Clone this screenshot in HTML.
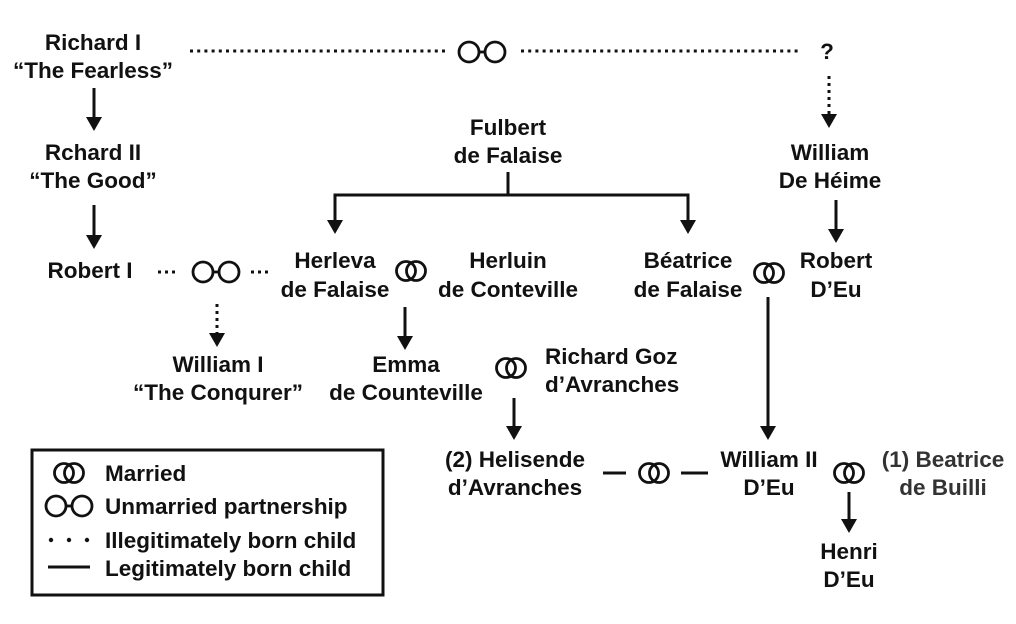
<!DOCTYPE html>
<html><head><meta charset="utf-8"><style>
html,body{margin:0;padding:0;background:#fff;}
svg{display:block;}
text{font-family:"Liberation Sans",Arial,sans-serif;font-weight:bold;font-size:22.5px;fill:#111;}
</style></head><body>
<svg width="1016" height="624" viewBox="0 0 1016 624" xmlns="http://www.w3.org/2000/svg">
<defs>
<g id="ring"><circle cx="-5" cy="0" r="9.5" fill="none" stroke="#111" stroke-width="2.8"/><circle cx="5" cy="0" r="9.5" fill="none" stroke="#111" stroke-width="2.8"/></g>
<g id="oo"><circle cx="-13" cy="0" r="10" fill="none" stroke="#111" stroke-width="2.8"/><circle cx="13" cy="0" r="10" fill="none" stroke="#111" stroke-width="2.8"/><line x1="-3" y1="0" x2="3" y2="0" stroke="#111" stroke-width="2.8"/></g>
</defs>
<g text-anchor="middle">
<text x="93" y="50">Richard I</text>
<text x="93" y="78">“The Fearless”</text>
<text x="93" y="160">Rchard II</text>
<text x="93" y="188">“The Good”</text>
<text x="90" y="278">Robert I</text>
<text x="508" y="135">Fulbert</text>
<text x="508" y="163">de Falaise</text>
<text x="830" y="160">William</text>
<text x="830" y="188">De Héime</text>
<text x="335" y="268">Herleva</text>
<text x="335" y="297">de Falaise</text>
<text x="508" y="268">Herluin</text>
<text x="508" y="297">de Conteville</text>
<text x="688" y="268">Béatrice</text>
<text x="688" y="297">de Falaise</text>
<text x="836" y="268">Robert</text>
<text x="836" y="297">D’Eu</text>
<text x="218" y="372">William I</text>
<text x="218" y="400">“The Conqurer”</text>
<text x="406" y="372">Emma</text>
<text x="406" y="400">de Counteville</text>
<text x="515" y="467">(2) Helisende</text>
<text x="515" y="495">d’Avranches</text>
<text x="769" y="467">William II</text>
<text x="769" y="495">D’Eu</text>
<text x="943" y="467" style="fill:#333">(1) Beatrice</text>
<text x="943" y="495" style="fill:#333">de Builli</text>
<text x="849" y="559">Henri</text>
<text x="849" y="587">D’Eu</text>
<text x="827" y="59">?</text>
</g>
<text x="545" y="364">Richard Goz</text>
<text x="545" y="392">d’Avranches</text>
<g stroke="#111" stroke-width="3" fill="none">
<line x1="190" y1="51" x2="446" y2="51" stroke-dasharray="3 4.2"/>
<line x1="521" y1="51" x2="801" y2="51" stroke-dasharray="3 4.2"/>
<line x1="829" y1="76" x2="829" y2="116" stroke-dasharray="3 4"/>
<line x1="158" y1="272" x2="178" y2="272" stroke-dasharray="3 4"/>
<line x1="251" y1="272" x2="271" y2="272" stroke-dasharray="3 4"/>
<line x1="217" y1="304" x2="217" y2="336" stroke-dasharray="3 4"/>
<line x1="94" y1="88" x2="94" y2="120"/>
<line x1="94" y1="205" x2="94" y2="238"/>
<polyline points="335,222 335,195 688,195 688,222"/>
<line x1="508" y1="172" x2="508" y2="195"/>
<line x1="836" y1="200" x2="836" y2="232"/>
<line x1="405" y1="307" x2="405" y2="338"/>
<line x1="514" y1="398" x2="514" y2="428"/>
<line x1="768" y1="297" x2="768" y2="428"/>
<line x1="849" y1="492" x2="849" y2="522"/>
<line x1="603" y1="473" x2="626" y2="473"/>
<line x1="681" y1="473" x2="708" y2="473"/>
</g>
<g fill="#111">
<polygon points="86,117 102,117 94,131"/>
<polygon points="86,235 102,235 94,249"/>
<polygon points="327,220 343,220 335,234"/>
<polygon points="680,220 696,220 688,234"/>
<polygon points="821,114 837,114 829,128"/>
<polygon points="828,229 844,229 836,243"/>
<polygon points="209,333 225,333 217,347"/>
<polygon points="397,336 413,336 405,350"/>
<polygon points="506,426 522,426 514,440"/>
<polygon points="760,426 776,426 768,440"/>
<polygon points="841,519 857,519 849,533"/>
</g>
<use href="#oo" x="482" y="52"/>
<use href="#oo" x="216" y="272"/>
<use href="#ring" x="411" y="271"/>
<use href="#ring" x="769" y="273"/>
<use href="#ring" x="511" y="368"/>
<use href="#ring" x="654" y="473"/>
<use href="#ring" x="849" y="473"/>
<rect x="32" y="450" width="351" height="145" fill="none" stroke="#111" stroke-width="3"/>
<use href="#ring" x="69" y="473"/>
<use href="#oo" x="69" y="506"/>
<g fill="#111"><circle cx="51" cy="540" r="2.2"/><circle cx="69" cy="540" r="2.2"/><circle cx="87" cy="540" r="2.2"/></g>
<line x1="48" y1="567" x2="90" y2="567" stroke="#111" stroke-width="3"/>
<text x="105" y="481">Married</text>
<text x="105" y="514">Unmarried partnership</text>
<text x="105" y="548">Illegitimately born child</text>
<text x="105" y="576">Legitimately born child</text>
</svg>
</body></html>
